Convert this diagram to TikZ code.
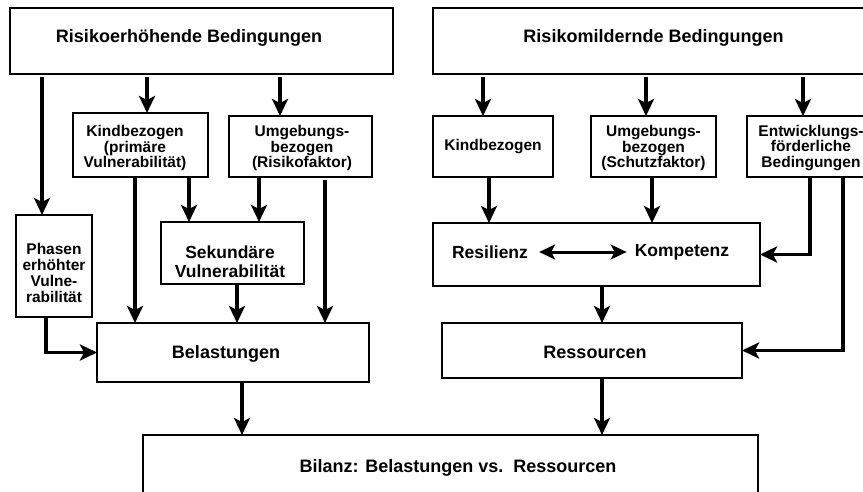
\documentclass[tikz,border=0pt]{standalone}
\usepackage{fontspec}
\setmainfont{Liberation Sans}
\usetikzlibrary{arrows.meta}
\begin{document}
\begin{tikzpicture}[x=1pt,y=-1pt,
  box/.style={draw=black,line width=2.2pt,inner sep=0pt,outer sep=0pt,fill=white},
  lbl/.style={inner sep=0pt,align=center,font=\bfseries\fontsize{18}{19}\selectfont},
  sml/.style={inner sep=0pt,align=center,font=\bfseries\fontsize{15.5}{15.7}\selectfont},
  arr/.style={line width=3.4pt,-{Stealth[length=17pt,width=16pt,inset=4pt]}},
  dbl/.style={line width=3pt,{Stealth[length=16pt,width=15pt,inset=4pt]}-{Stealth[length=16pt,width=15pt,inset=4pt]}}
]
\useasboundingbox (0,0) rectangle (863,492);
\begin{scope}
\clip (0,0) rectangle (863,492);
% boxes
\node[box,minimum width=383pt,minimum height=66pt] (topL) at (201.5,41) {};
\node[lbl] (topLt) at (189,38) {Risikoerhöhende Bedingungen};
\node[box,minimum width=441pt,minimum height=66pt] (topR) at (653.5,41) {};
\node[lbl] (topRt) at (653.5,38) {Risikomildernde Bedingungen};

\node[box,minimum width=135pt,minimum height=64pt] (kindL) at (140.5,145) {};
\node[sml] (kindLt) at (135,148) {Kindbezogen\\(primäre\\Vulnerabilität)};
\node[box,minimum width=143pt,minimum height=61pt] (umgL) at (300.5,146.5) {};
\node[sml] (umgLt) at (302,148) {Umgebungs-\\bezogen\\(Risikofaktor)};

\node[box,minimum width=76pt,minimum height=102pt] (phasen) at (54,266) {};
\node[sml] (phasent) at (54,273) {Phasen\\erhöhter\\Vulne-\\rabilität};
\node[box,minimum width=143pt,minimum height=62pt] (sek) at (232.5,253) {};
\node[inner sep=0pt,align=center,font=\bfseries\fontsize{17.5}{19}\selectfont] (sekt) at (230,262) {Sekundäre\\Vulnerabilität};

\node[box,minimum width=272pt,minimum height=59pt] (belast) at (233,352.5) {};
\node[lbl] (belastt) at (226,354) {Belastungen};

\node[box,minimum width=615pt,minimum height=120pt] (bilanz) at (450.5,495) {};
\node[lbl] (bilanzt) at (458,468) {Bilanz: Belastungen vs.\ \ Ressourcen};

\node[box,minimum width=120pt,minimum height=61pt] (kindR) at (493,146.5) {};
\node[sml] (kindRt) at (493,146.5) {Kindbezogen};
\node[box,minimum width=125pt,minimum height=61pt] (umgR) at (653.5,146.5) {};
\node[sml] (umgRt) at (653.5,148) {Umgebungs-\\bezogen\\(Schutzfaktor)};
\node[box,minimum width=130pt,minimum height=61pt] (entw) at (812,146.5) {};
\node[sml] (entwt) at (811,148) {Entwicklungs-\\förderliche\\Bedingungen};

\node[box,minimum width=327pt,minimum height=63pt] (reskomp) at (596.5,254.5) {};
\node[inner sep=0pt,font=\bfseries\fontsize{17.5}{19}\selectfont] (resil) at (490,252) {Resilienz};
\node[inner sep=0pt,font=\bfseries\fontsize{17.5}{19}\selectfont] (kompet) at (682,252) {Kompetenz};

\node[box,minimum width=300pt,minimum height=55pt] (ressourcen) at (592,350.5) {};
\node[lbl] (ressourcent) at (595,352) {Ressourcen};

% connectors left
\draw[arr,shorten <=3pt] (topL.south -| 42,0) -- (phasen.north -| 42,0);
\draw[arr,shorten <=3pt] (topL.south -| 147,0) -- (kindL.north -| 147,0);
\draw[arr,shorten <=3pt] (topL.south -| 280,0) -- (umgL.north -| 280,0);
\draw[arr] (kindL.south -| 135,0) -- (belast.north -| 135,0);
\draw[arr] (kindL.south -| 189,0) -- (sek.north -| 189,0);
\draw[arr] (umgL.south -| 259,0) -- (sek.north -| 259,0);
\draw[arr,shorten <=3pt] (umgL.south -| 325,0) -- (belast.north -| 325,0);
\draw[arr] (sek.south -| 237,0) -- (belast.north -| 237,0);
\draw[arr] (phasen.south -| 46,0) |- (belast.west);
\draw[arr] (belast.south -| 242,0) -- (bilanz.north -| 242,0);

% connectors right
\draw[arr,shorten <=3pt] (topR.south -| 483,0) -- (kindR.north -| 483,0);
\draw[arr,shorten <=3pt] (topR.south -| 646,0) -- (umgR.north -| 646,0);
\draw[arr,shorten <=3pt] (topR.south -| 803,0) -- (entw.north -| 803,0);
\draw[arr] (kindR.south -| 489,0) -- (reskomp.north -| 489,0);
\draw[arr] (umgR.south -| 652,0) -- (reskomp.north -| 652,0);
\draw[arr] (entw.south -| 810,0) |- (reskomp.east);
\draw[arr] (entw.south -| 843,0) |- (ressourcen.east);
\draw[arr] (reskomp.south -| 602,0) -- (ressourcen.north -| 602,0);
\draw[arr] (ressourcen.south -| 602,0) -- (bilanz.north -| 602,0);
\draw[dbl,shorten <=11pt,shorten >=8pt] (resil.east) -- (kompet.west);
\end{scope}
\end{tikzpicture}
\end{document}
